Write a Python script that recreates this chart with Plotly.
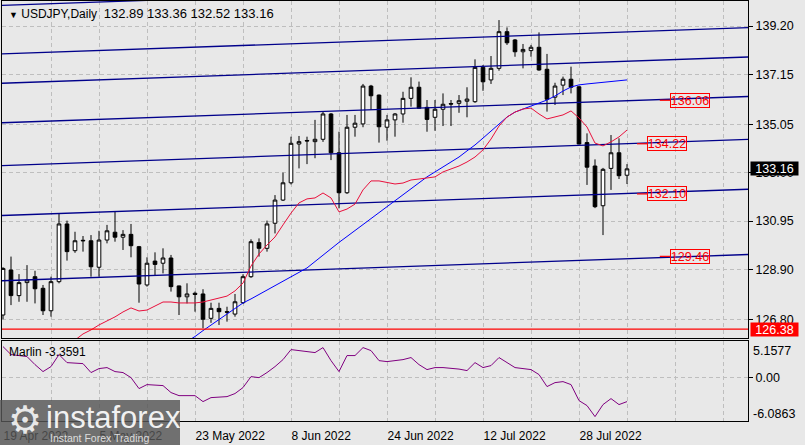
import plotly.graph_objects as go
import pandas as pd

W, H = 805, 445

symbol = "USDJPY,Daily"
dates = pd.bdate_range("2022-04-19", "2022-08-05")  # 79 daily bars

open_ = [126.98, 128.88, 127.80, 128.35, 128.60, 128.11, 127.16, 128.39, 130.83, 129.70,
         130.14, 130.12, 129.00, 130.15, 130.48, 130.27, 130.39, 129.87, 128.25, 129.26,
         129.17, 129.39, 128.21, 127.75, 127.90, 127.87, 126.84, 127.26, 127.12, 127.02,
         127.50, 128.60, 130.04, 129.80, 130.86, 131.84, 132.57, 134.21, 134.36, 134.31,
         134.41, 135.48, 133.84, 132.15, 134.92, 135.06, 136.66, 136.28, 134.92, 135.23,
         135.48, 136.14, 136.61, 135.76, 135.34, 135.68, 135.92, 135.93, 136.02, 136.00,
         137.45, 136.92, 137.41, 138.96, 138.61, 138.11, 138.16, 138.30, 137.37, 136.19,
         136.70, 136.95, 136.63, 134.27, 133.28, 131.60, 133.18, 133.84, 132.89]
high = [129.00, 129.45, 128.71, 129.09, 128.85, 128.25, 128.60, 131.25, 130.97, 130.50,
        130.32, 130.36, 130.54, 130.79, 131.35, 130.57, 130.83, 129.90, 129.42, 129.63,
        129.80, 129.52, 128.22, 128.32, 127.97, 128.07, 127.50, 127.50, 127.33, 127.87,
        128.70, 130.18, 130.22, 130.97, 132.05, 133.00, 134.52, 134.55, 134.52, 135.23,
        135.60, 135.52, 134.73, 135.44, 135.44, 136.75, 136.71, 136.30, 135.44, 135.52,
        136.42, 137.03, 136.85, 136.07, 136.07, 136.35, 136.07, 136.28, 136.61, 137.79,
        137.55, 137.93, 139.45, 139.14, 138.65, 138.44, 138.40, 138.93, 138.02, 136.80,
        137.06, 137.48, 136.65, 134.66, 133.56, 133.20, 134.59, 134.45, 133.36]
low = [126.80, 127.40, 127.54, 127.54, 127.47, 126.98, 126.91, 128.32, 129.28, 129.61,
       129.66, 128.60, 128.60, 130.01, 130.08, 129.73, 129.42, 127.50, 128.18, 128.67,
       128.74, 127.97, 126.98, 127.47, 127.12, 126.42, 126.65, 126.56, 126.70, 126.91,
       127.45, 128.55, 129.45, 129.66, 130.43, 131.80, 132.50, 133.18, 133.36, 133.61,
       134.30, 133.53, 131.49, 132.10, 134.52, 134.92, 135.65, 134.27, 134.35, 134.52,
       135.11, 135.79, 135.70, 134.73, 134.77, 134.97, 134.97, 135.53, 135.34, 135.95,
       136.46, 136.75, 137.31, 138.40, 137.90, 137.41, 137.90, 137.31, 135.58, 135.86,
       136.28, 136.35, 134.20, 132.48, 131.50, 130.36, 132.27, 132.73, 132.52]
close = [128.95, 127.80, 128.35, 128.46, 128.09, 127.16, 128.39, 130.83, 129.66, 130.12,
         130.12, 129.02, 130.15, 130.54, 130.27, 130.39, 129.91, 128.29, 129.17, 129.12,
         129.39, 128.18, 127.75, 127.87, 127.85, 126.80, 127.26, 127.12, 127.10, 127.54,
         128.60, 130.08, 129.80, 130.83, 131.84, 132.57, 134.24, 134.31, 134.34, 134.41,
         135.48, 133.84, 132.15, 134.92, 135.09, 136.66, 136.25, 134.94, 135.23, 135.48,
         136.14, 136.61, 135.72, 135.25, 135.68, 135.89, 135.90, 136.04, 136.11, 137.45,
         136.84, 137.41, 138.96, 138.49, 138.11, 138.21, 138.30, 137.34, 136.10, 136.66,
         136.95, 136.61, 134.21, 133.23, 131.56, 133.14, 133.84, 132.87, 133.16]

# fast moving average (red), values for the last bars
ma_fast_vals = [125.59, 125.92, 126.18, 126.35, 126.56, 126.73, 126.90, 127.11, 127.28, 127.15,
                127.19, 127.36, 127.53, 127.53, 127.49, 127.49, 127.49, 127.53, 127.61, 127.70,
                127.78, 128.00, 128.33, 129.05, 129.56, 129.94, 130.28, 130.79, 131.29, 131.72,
                131.89, 131.93, 132.14, 131.93, 131.34, 131.46, 131.67, 132.27, 132.65, 132.65,
                132.60, 132.52, 132.56, 132.69, 132.73, 132.77, 132.82, 133.03, 133.15, 133.28,
                133.45, 133.66, 133.96, 134.42, 134.97, 135.35, 135.56, 135.69, 135.73, 135.48,
                135.27, 135.35, 135.44, 135.61, 135.31, 134.93, 134.25, 134.13, 134.30, 134.51,
                134.80]
# slow moving average (blue)
ma_slow_vals = [125.86, 126.07, 126.32, 126.56, 126.79, 127.02, 127.25, 127.49, 127.66, 127.85,
                128.04, 128.23, 128.42, 128.61, 128.78, 128.97, 129.24, 129.52, 129.79, 130.05,
                130.30, 130.55, 130.81, 131.06, 131.31, 131.55, 131.80, 132.05, 132.31, 132.56,
                132.82, 133.03, 133.24, 133.45, 133.66, 133.92, 134.17, 134.46, 134.76, 135.06,
                135.35, 135.56, 135.69, 135.82, 135.94, 136.07, 136.24, 136.45, 136.62, 136.71,
                136.75, 136.79, 136.83, 136.87, 136.90, 136.92]

marlin = [4.37, 3.25, 3.11, 2.97, 1.84, 0.86, 1.56, 3.25, 2.12, 2.05,
          1.98, 0.72, 1.28, 1.42, 0.86, 0.72, 0.01, -1.53, -0.97, -1.04,
          -1.11, -2.09, -2.52, -2.52, -2.52, -3.36, -2.80, -2.73, -2.66, -2.23,
          -1.39, 0.15, 0.01, 0.72, 1.56, 2.54, 3.95, 3.81, 3.67, 3.53,
          4.23, 2.40, 0.86, 3.11, 3.11, 4.23, 3.81, 2.40, 2.26, 2.40,
          2.54, 2.83, 1.84, 1.14, 1.42, 1.42, 1.35, 1.21, 1.00, 2.12,
          1.42, 1.70, 2.83, 2.12, 1.42, 1.28, 1.14, 0.44, -1.25, -0.69,
          -0.55, -0.97, -3.22, -3.92, -5.47, -3.78, -2.94, -3.78, -3.3591]
marlin_max, marlin_min = 5.1577, -6.0863

# sloping channel lines: level at first bar, slope per bar
channel_base = [140.07, 138.02, 136.78, 135.11, 133.30, 131.19, 128.43]
channel_slope = 0.0119
support_level = 126.38

level_labels = [136.06, 134.22, 132.10, 129.46]
level_label_bar = [85.9, 83.0, 83.0, 85.9]
level_dash_bars = [(82.1, 83.5), (79.25, 80.5), (79.25, 80.5), (82.1, 83.5)]

price_ticks = [139.20, 137.15, 135.05, 133.00, 130.95, 128.90, 126.80]
date_tick_labels = ["19 Apr 2022", "5 May 2022", "23 May 2022", "8 Jun 2022",
                    "24 Jun 2022", "12 Jul 2022", "28 Jul 2022"]

# ---------------------------------------------------------------
n = len(dates)
idx = list(range(n))
ma_fast = [None] * (n - len(ma_fast_vals)) + ma_fast_vals
ma_slow = [None] * (n - len(ma_slow_vals)) + ma_slow_vals

BG = "#E8E8E8"
GRID = "#BEBEBE"
GDASH = "4px,3px"
FONT = "Liberation Sans"

X_LO, X_HI = -0.125, 93.125
grid_ticks = list(range(0, 94, 6))
grid_text = []
k = 0
for t in grid_ticks:
    if t % 12 == 0 and k < len(date_tick_labels) and t < n:
        grid_text.append(date_tick_labels[k]); k += 1
    else:
        grid_text.append("")

fig = go.Figure()

fig.add_trace(go.Candlestick(
    x=idx, open=open_, high=high, low=low, close=close,
    increasing=dict(fillcolor="white", line=dict(color="black", width=1)),
    decreasing=dict(fillcolor="black", line=dict(color="black", width=1)),
    whiskerwidth=0, showlegend=False, hoverinfo="skip", xaxis="x", yaxis="y"))

xs = [X_LO - 1, X_HI + 1]
for b in channel_base:
    fig.add_trace(go.Scatter(x=xs, y=[b + channel_slope * v for v in xs], mode="lines",
                             line=dict(color="#00008B", width=1.3), showlegend=False,
                             hoverinfo="skip", xaxis="x", yaxis="y"))

fig.add_trace(go.Scatter(x=idx, y=ma_slow, mode="lines", line=dict(color="#0000FF", width=1),
                         showlegend=False, hoverinfo="skip", xaxis="x", yaxis="y"))
fig.add_trace(go.Scatter(x=idx, y=ma_fast, mode="lines", line=dict(color="#E8103C", width=1),
                         showlegend=False, hoverinfo="skip", xaxis="x", yaxis="y"))
fig.add_trace(go.Scatter(x=xs, y=[support_level, support_level], mode="lines",
                         line=dict(color="#FF0000", width=1.2), showlegend=False,
                         hoverinfo="skip", xaxis="x", yaxis="y"))
for v, (a, b) in zip(level_labels, level_dash_bars):
    fig.add_trace(go.Scatter(x=[a, b], y=[v, v], mode="lines",
                             line=dict(color="#FF0000", width=1.2), showlegend=False,
                             hoverinfo="skip", xaxis="x", yaxis="y"))

fig.add_trace(go.Scatter(x=idx, y=marlin, mode="lines", line=dict(color="#800080", width=1),
                         showlegend=False, hoverinfo="skip", xaxis="x2", yaxis="y2"))

tickfont = dict(family=FONT, size=12.5, color="black")
datefont = dict(family=FONT, size=12, color="black")
common_x = dict(domain=[2 / W, 748 / W], range=[X_LO, X_HI], tickvals=grid_ticks,
                showgrid=True, gridcolor=GRID, griddash=GDASH, gridwidth=1, zeroline=False,
                showline=True, linecolor="black", linewidth=1, mirror=True, fixedrange=True)

fig.update_layout(
    width=W, height=H, margin=dict(l=0, r=0, t=0, b=0),
    paper_bgcolor=BG, plot_bgcolor=BG, showlegend=False, boxgap=0.35,
    xaxis=dict(**common_x, anchor="y", showticklabels=False, ticks="",
               rangeslider=dict(visible=False)),
    yaxis=dict(domain=[1 - 338 / H, 1 - 1 / H], range=[126.008, 140.257], anchor="x",
               side="right", tickvals=price_ticks, ticktext=[f"{v:.2f}" for v in price_ticks],
               ticks="outside", ticklen=4, tickcolor="black", tickfont=tickfont,
               showgrid=True, gridcolor=GRID, griddash=GDASH, zeroline=False,
               showline=True, linecolor="black", linewidth=1, mirror=True, fixedrange=True),
    xaxis2=dict(**common_x, anchor="y2", matches="x", ticktext=grid_text,
                ticklabelposition="outside right", ticks="", tickfont=datefont,
                ticklabelstandoff=4, rangeslider=dict(visible=False)),
    yaxis2=dict(domain=[1 - 421 / H, 1 - 341 / H], range=[marlin_min, marlin_max], anchor="x2",
                side="right", tickvals=[0], ticktext=["0.00"], ticks="outside", ticklen=4,
                tickcolor="black", tickfont=tickfont, showgrid=True, gridcolor=GRID,
                griddash=GDASH, zeroline=False, showline=True, linecolor="black",
                linewidth=1, mirror=True, fixedrange=True),
)

ann = []
ann.append(dict(xref="paper", yref="paper", x=7 / W, y=1 - 13 / H, xanchor="left", yanchor="middle",
                text=f'<span style="font-size:9px">▼</span> {symbol}  '
                     f'<span style="font-size:13px">{open_[-1]:.2f} {high[-1]:.2f} '
                     f'{low[-1]:.2f} {close[-1]:.2f}</span>',
                showarrow=False, font=dict(family=FONT, size=12, color="black")))
ann.append(dict(xref="paper", yref="paper", x=7 / W, y=1 - 352 / H, xanchor="left", yanchor="middle",
                text=f"Marlin {marlin[-1]:.4f}", showarrow=False,
                font=dict(family=FONT, size=12, color="black")))
ann.append(dict(xref="paper", yref="y", x=750 / W, y=close[-1], xanchor="left", yanchor="middle",
                text=f"{close[-1]:.2f}", showarrow=False, bgcolor="black", width=47, height=13,
                borderpad=0, align="center", font=dict(family=FONT, size=12.5, color="white")))
ann.append(dict(xref="paper", yref="y", x=750 / W, y=support_level, xanchor="left", yanchor="middle",
                text=f"{support_level:.2f}", showarrow=False, bgcolor="#FF0000", width=47, height=13,
                borderpad=0, align="center", font=dict(family=FONT, size=12.5, color="white")))
ann.append(dict(xref="paper", yref="y2", x=751 / W, y=marlin_max, yshift=-10, xanchor="left",
                yanchor="middle", text=f"{marlin_max:.4f}", showarrow=False, font=tickfont))
ann.append(dict(xref="paper", yref="y2", x=751 / W, y=marlin_min, yshift=7, xanchor="left",
                yanchor="middle", text=f"{marlin_min:.4f}", showarrow=False, font=tickfont))
for v, bx in zip(level_labels, level_label_bar):
    ann.append(dict(xref="x", yref="y", x=bx, y=v, xanchor="center", yanchor="middle",
                    text=f"{v:.2f}", showarrow=False, bordercolor="#FF0000", borderwidth=1,
                    borderpad=0, width=38, height=13,
                    font=dict(family=FONT, size=12.5, color="#FF0000")))

# watermark logo
ann.append(dict(xref="paper", yref="paper", x=25 / W, y=1 - 420 / H, xanchor="center", yanchor="middle",
                text="⚙", showarrow=False,
                font=dict(family="DejaVu Sans", size=38, color="rgba(255,255,255,0.85)")))
ann.append(dict(xref="paper", yref="paper", x=44 / W, y=1 - 417 / H, xanchor="left", yanchor="middle",
                text="instaforex", showarrow=False,
                font=dict(family="Liberation Sans", size=31, color="rgba(255,255,255,0.92)")))
ann.append(dict(xref="paper", yref="paper", x=48 / W, y=1 - 438 / H, xanchor="left", yanchor="middle",
                text="Instant Forex Trading", showarrow=False,
                font=dict(family="Liberation Sans", size=10.5, color="#DDDDDD")))

fig.update_layout(
    annotations=ann,
    shapes=[dict(type="rect", xref="paper", yref="paper", x0=0, x1=180 / W, y0=0, y1=1 - 400 / H,
                 fillcolor="rgba(85,85,85,0.82)", line=dict(width=0), layer="above")],
)

fig.write_html("out.html", config={"displayModeBar": False},
               post_script="document.body.style.margin='0px';document.body.style.overflow='hidden';")
